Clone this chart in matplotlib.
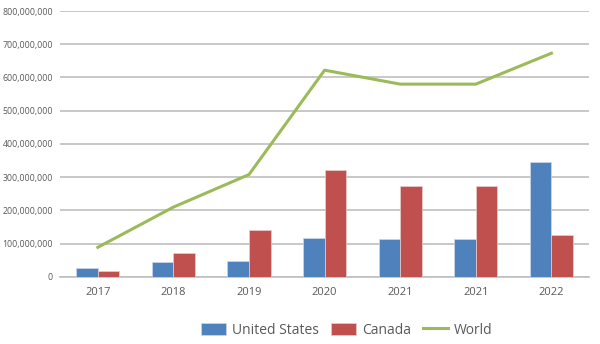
import matplotlib
matplotlib.use('Agg')
import matplotlib.pyplot as plt
from matplotlib.ticker import FuncFormatter
import numpy as np

plt.rcParams['font.family'] = ['Open Sans', 'DejaVu Sans']

years = ['2017', '2018', '2019', '2020', '2021', '2021', '2022']
us = [27e6, 45e6, 48e6, 117e6, 114e6, 114e6, 346e6]
canada = [17e6, 71e6, 140e6, 322e6, 274e6, 274e6, 126e6]
world = [89e6, 210e6, 308e6, 622e6, 580e6, 580e6, 673e6]

BLUE = '#4F81BD'
RED = '#C0504D'
GREEN = '#9BBB59'
GRID = '#BFBFBF'
TEXT = '#595959'

fig = plt.figure(figsize=(6, 3.44), dpi=100)
ax = fig.add_axes([0.1, 0.195, 0.882, 0.773])

x = np.arange(len(years))
w = 0.287
b1 = ax.bar(x - w / 2, us, w, color=BLUE, edgecolor='#D0D8E4', linewidth=0.5, label='United States', zorder=3)
b2 = ax.bar(x + w / 2, canada, w, color=RED, edgecolor='#E4D0D0', linewidth=0.5, label='Canada', zorder=3)
l1, = ax.plot(x, world, color=GREEN, lw=2.2, label='World', zorder=4)

ax.set_xlim(-0.5, len(years) - 0.5)
ax.set_ylim(0, 800e6)
ax.set_yticks(np.arange(0, 800e6 + 1, 100e6))
ax.yaxis.set_major_formatter(FuncFormatter(lambda v, p: f'{int(v):,}'))
ax.set_xticks(x)
ax.set_xticklabels(years)
ax.grid(axis='y', color=GRID, lw=1.2, zorder=0)
for s in ['top', 'right', 'left']:
    ax.spines[s].set_visible(False)
ax.spines['bottom'].set_color(GRID)
ax.spines['bottom'].set_linewidth(1.2)
ax.tick_params(axis='y', length=0, labelsize=6.3, labelcolor=TEXT, pad=5)
ax.tick_params(axis='x', length=0, labelsize=8, labelcolor=TEXT, pad=7)

fig.legend([b1, b2, l1], ['United States', 'Canada', 'World'],
           loc='center', bbox_to_anchor=(0.578, 0.04), ncol=3, frameon=False,
           fontsize=10, labelcolor=TEXT, handlelength=1.8, handleheight=0.9,
           columnspacing=0.9, handletextpad=0.4)

fig.savefig('out.png', dpi=100, facecolor='white')
